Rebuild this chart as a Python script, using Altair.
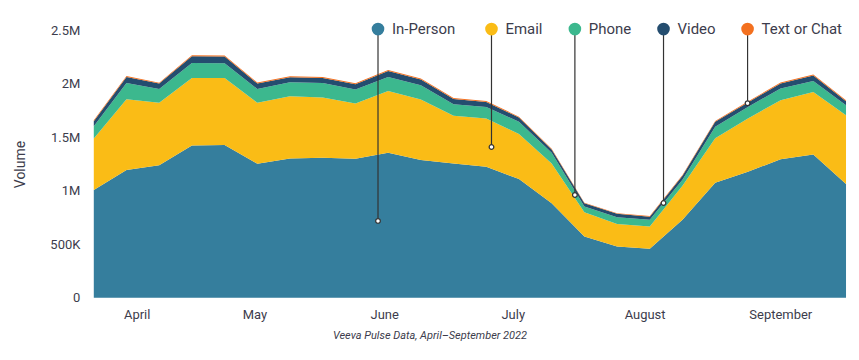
import altair as alt
import pandas as pd

# ---- data (weekly, thousands of interactions) ----
weeks = list(range(24))
channels = ["In-Person", "Email", "Phone", "Video", "Text or Chat"]
colors = ["#357e9d", "#fabc16", "#3cb88e", "#244d6f", "#f3701f"]

in_person = [1007, 1194, 1238, 1424, 1427, 1253, 1301, 1309, 1299, 1355, 1287, 1256,
             1225, 1110, 883, 572, 479, 457, 728, 1076, 1178, 1294, 1340, 1063]
email = [482, 662, 584, 631, 628, 569, 583, 563, 517, 579, 566, 445,
         451, 420, 373, 227, 211, 208, 320, 414, 498, 553, 584, 644]
phone = [115, 152, 130, 140, 137, 130, 131, 136, 131, 130, 134, 109,
         108, 115, 99, 53, 63, 63, 55, 108, 108, 109, 103, 93]
video = [47, 56, 50, 62, 63, 51, 47, 47, 49, 56, 53, 49,
         47, 40, 32, 31, 31, 30, 38, 47, 42, 47, 50, 38]
text_chat = [9, 10, 9, 10, 10, 9, 9, 9, 9, 10, 9, 9,
             8, 8, 7, 6, 6, 6, 7, 8, 8, 9, 9, 8]

# month tick labels (positions in week units)
month_names = ["April", "May", "June", "July", "August", "September"]
month_pos = [1.31, 4.91, 8.88, 12.81, 16.84, 20.99]

# callout anchors (week position, value on the area, legend level)
callout_x = [8.69, 12.16, 14.71, 17.42, 19.99]
callout_y = [718000, 1409000, 961000, 886000, 1819000]
legend_level = 2512000

series = [in_person, email, phone, video, text_chat]
rows = []
for i, (name, vals) in enumerate(zip(channels, series)):
    for w, v in zip(weeks, vals):
        rows.append({"week": w, "volume": v * 1000, "channel": name, "order": i})
df = pd.DataFrame(rows)

ann = pd.DataFrame({
    "channel": channels,
    "week": callout_x,
    "volume": callout_y,
    "top": [legend_level] * len(channels),
})

FONT = "Roboto"
TXT = "#3c3c4c"

color_scale = alt.Scale(domain=channels, range=colors)
x_scale = alt.Scale(domain=[0, 23], nice=False, zero=False)
y_scale = alt.Scale(domain=[0, 2500000], nice=False)

labels_expr = "[" + ",".join(f"'{m}'" for m in month_names) + "][indexof([" + \
    ",".join(str(p) for p in month_pos) + "], datum.value)]"

areas = alt.Chart(df).mark_area(interpolate="linear").encode(
    x=alt.X("week:Q", scale=x_scale,
            axis=alt.Axis(values=month_pos, labelExpr=labels_expr, title=None,
                          grid=False, ticks=False, domain=False,
                          labelFontSize=13, labelColor=TXT, labelPadding=11,
                          labelFont=FONT)),
    y=alt.Y("volume:Q", stack="zero", scale=y_scale,
            axis=alt.Axis(values=[0, 500000, 1000000, 1500000, 2000000, 2500000],
                          labelExpr="datum.value >= 1000000 ? format(datum.value/1000000, '~g') + 'M' : (datum.value > 0 ? format(datum.value/1000, '~g') + 'K' : '0')",
                          title="Volume", grid=False, ticks=False, domain=False,
                          labelFontSize=13, labelColor=TXT, labelPadding=14,
                          labelFont=FONT, titleFont=FONT, titleFontSize=14,
                          titleFontWeight="normal", titleColor=TXT, titlePadding=22)),
    color=alt.Color("channel:N", scale=color_scale, legend=None),
    order=alt.Order("order:Q"),
)

rules = alt.Chart(ann).mark_rule(color="#333333", strokeWidth=1.2).encode(
    x=alt.X("week:Q", scale=x_scale),
    y=alt.Y("volume:Q", scale=y_scale),
    y2="top:Q",
)

dots = alt.Chart(ann).mark_point(filled=True, fill="white", stroke="#333333",
                                 strokeWidth=1.2, size=22, opacity=1).encode(
    x=alt.X("week:Q", scale=x_scale),
    y=alt.Y("volume:Q", scale=y_scale),
)

legend_dots = alt.Chart(ann).mark_circle(size=160, opacity=1).encode(
    x=alt.X("week:Q", scale=x_scale),
    y=alt.Y("top:Q", scale=y_scale),
    color=alt.Color("channel:N", scale=color_scale, legend=None),
)

legend_text = alt.Chart(ann).mark_text(align="left", baseline="middle", dx=14,
                                       fontSize=15, font=FONT, color=TXT).encode(
    x=alt.X("week:Q", scale=x_scale),
    y=alt.Y("top:Q", scale=y_scale),
    text="channel:N",
)

chart = alt.layer(areas, rules, dots, legend_dots, legend_text).properties(
    width=754,
    height=268,
    padding={"left": 5, "top": 13, "right": 5, "bottom": 5},
    title=alt.TitleParams("Veeva Pulse Data, April\u2013September 2022", orient="bottom",
                          frame="bounds", anchor="middle", fontSize=11,
                          fontStyle="italic", fontWeight="normal", color=TXT,
                          font=FONT, offset=8),
).configure(font=FONT, view=alt.ViewConfig(stroke=None))

chart.save("out.html", embed_options={"renderer": "svg", "actions": False})
